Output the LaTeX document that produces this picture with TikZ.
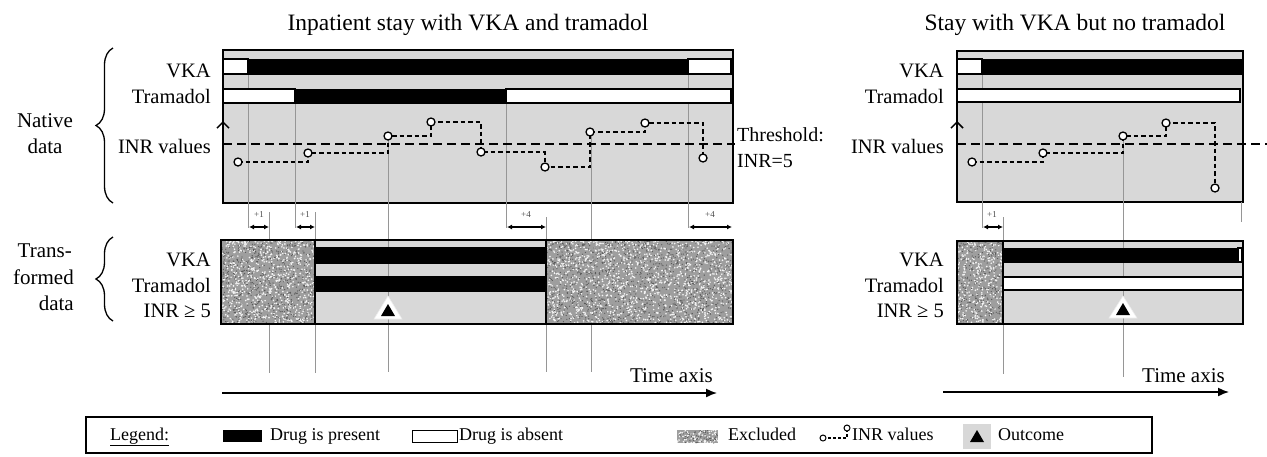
\documentclass[tikz,border=0pt]{standalone}
\usepackage{fontspec}
\setmainfont{Liberation Serif}
\usetikzlibrary{arrows.meta,decorations.pathreplacing}
\definecolor{boxgray}{RGB}{216,216,216}
\definecolor{linegray}{RGB}{150,150,150}
\definecolor{exgray}{RGB}{158,158,158}
\newcommand\mynoise[5]{%
  \begin{scope}
  \clip (#1,#2) rectangle (#3,#4);
  \fill[exgray] (#1,#2) rectangle (#3,#4);
  \foreach \k in {1,...,#5}{
    \fill[white!92!gray] ({#1+rnd*(#3-#1)},{#2+rnd*(#4-#2)}) circle (0.9);
    \fill[black!65] ({#1+rnd*(#3-#1)},{#2+rnd*(#4-#2)}) circle (0.65);
  }
  \end{scope}}
\begin{document}
\begin{tikzpicture}[x=1pt,y=-1pt,
  lab/.style={font=\fontsize{20.5}{24}\selectfont, inner sep=0pt, anchor=base east},
  side/.style={font=\fontsize{21}{24}\selectfont, inner sep=0pt},
  titlelab/.style={font=\fontsize{23.5}{28}\selectfont, inner sep=0pt, anchor=base},
  leglab/.style={font=\fontsize{18}{22}\selectfont, inner sep=0pt, anchor=base west},
  panelbox/.style={draw=black, line width=1.8pt, fill=boxgray},
  presentbar/.style={fill=black, draw=black, line width=0.8pt},
  absentbar/.style={fill=white, draw=black, line width=1.2pt},
  tickline/.style={draw=linegray, line width=1pt},
  thresh/.style={dash pattern=on 9pt off 5pt, line width=1.5pt},
  inrline/.style={dash pattern=on 4.5pt off 3pt, line width=1.5pt},
  inrpt/.style={circle, draw=black, fill=white, line width=1.3pt, minimum size=8pt, inner sep=0pt},
  shiftarrow/.style={{Latex[length=5pt,width=5pt]}-{Latex[length=5pt,width=5pt]}, line width=1.3pt},
  smalllab/.style={font=\fontsize{9}{10}\selectfont, inner sep=0pt, anchor=base, text=black!70},
  uparrow/.style={line width=1.5pt, -{Straight Barb[length=6pt,width=12pt]}},
  timearrow/.style={line width=1.5pt, -{Latex[length=11pt,width=9pt]}},
  sidebrace/.style={decorate, decoration={brace, amplitude=17pt}, line width=1.3pt},
  outw/.style={fill=white, draw=white!85!gray, line width=0.6pt},
]
\useasboundingbox (0,0) rectangle (1267,456);
\pgfmathsetseed{7}

% ---------- titles ----------
\node[titlelab] (t1) at (468,30) {Inpatient stay with VKA and tramadol};
\node[titlelab] (t2) at (1075,30) {Stay with VKA but no tramadol};

% ---------- side labels ----------
\node[side, anchor=base] (nat1) at (45,127) {Native};
\node[side, anchor=base] (nat2) at (45,153) {data};
\node[side, anchor=base east] (tr1) at (72,257) {Trans-};
\node[side, anchor=base east] (tr2) at (74,284) {formed};
\node[side, anchor=base east] (tr3) at (74,310) {data};
\coordinate (b1a) at (113,203); \coordinate (b1b) at (113,48);
\coordinate (b2a) at (113,321); \coordinate (b2b) at (113,237);
\draw[sidebrace] (b1a) -- (b1b);
\draw[sidebrace] (b2a) -- (b2b);

% ================= LEFT PANEL =================
\draw[panelbox] (223,50) rectangle (733,203);
% tick lines
\draw[tickline] (248,74) -- (248,228);
\draw[tickline] (295,103) -- (295,228);
\draw[tickline] (388,136) -- (388,372);
\draw[tickline] (506,103) -- (506,228);
\draw[tickline] (591,132) -- (591,372);
\draw[tickline] (688,74) -- (688,228);
\draw[tickline] (269,212) -- (269,373);
\draw[tickline] (315,212) -- (315,373);
\draw[tickline] (546,217) -- (546,372);
% threshold
\draw[thresh] (223,144) -- (735,144);
% INR values
\coordinate (p1) at (238,162); \coordinate (p2) at (308,153);
\coordinate (p3) at (388,136); \coordinate (p4) at (431,122);
\coordinate (p5) at (481,152); \coordinate (p6) at (545,167);
\coordinate (p7) at (590,132); \coordinate (p8) at (645,123);
\coordinate (p9) at (703,158);
\draw[inrline] (p1) -| (p2) -| (p3) -| (p4) -| (p5) -| (p6) -| (p7) -| (p8) -| (p9);
\foreach \p in {p1,p2,p3,p4,p5,p6,p7,p8,p9} \node[inrpt] at (\p) {};
% bars
\draw[absentbar] (223,59) rectangle (248,74);
\draw[presentbar] (248,59) rectangle (688,74);
\draw[absentbar] (688,59) rectangle (731,74);
\draw[absentbar] (223,89) rectangle (295,103);
\draw[presentbar] (295,89) rectangle (506,103);
\draw[absentbar] (506,89) rectangle (731,103);
\draw[uparrow] (223,140) -- (223,121);
% labels
\node[lab] (l1) at (211,77) {VKA};
\node[lab] (l2) at (211,103) {Tramadol};
\node[lab] (l3) at (211,153) {INR values};
\node[side, anchor=base west, font=\fontsize{20}{24}\selectfont] (th1) at (737,141) {Threshold:};
\node[side, anchor=base west, font=\fontsize{20}{24}\selectfont] (th2) at (737,167) {INR=5};
% shifts
\draw[shiftarrow] (249,227) -- (269,227);
\node[smalllab] at (259,217) {+1};
\draw[shiftarrow] (296,227) -- (315,227);
\node[smalllab] at (305,217) {+1};
\draw[shiftarrow] (507,227) -- (546,227);
\node[smalllab] at (526,217) {+4};
\draw[shiftarrow] (689,227) -- (732,227);
\node[smalllab] at (710,217) {+4};
% transformed
\fill[boxgray] (221,240) rectangle (733,324);
\draw[tickline] (388,240) -- (388,324);
\draw[tickline] (546,240) -- (546,324);
\draw[presentbar] (315,247) rectangle (546,263);
\draw[presentbar] (315,276) rectangle (546,291);
\mynoise{221}{240}{315}{324}{700}
\mynoise{546}{240}{733}{324}{1300}
\draw[line width=1.2pt] (315,240) -- (315,324) (546,240) -- (546,324);
\draw[line width=1.8pt] (221,240) rectangle (733,324);
\fill[outw] (388,296) -- (374,319) -- (402,319) -- cycle;
\fill[black] (388,304) -- (381,316) -- (395,316) -- cycle;
\node[lab] (m1) at (211,266) {VKA};
\node[lab] (m2) at (211,292) {Tramadol};
\node[lab] (m3) at (211,317) {INR ≥ 5};
% time axis
\coordinate (ta1) at (222,393); \coordinate (ta2) at (717,393);
\draw[timearrow] (ta1) -- (ta2);
\node[side, anchor=base east] (tx1) at (713,382) {Time axis};

% ================= RIGHT PANEL =================
\draw[panelbox] (957,51) rectangle (1243,202);
\draw[tickline] (982,74) -- (982,228);
\draw[tickline] (1123,136) -- (1123,377);
\draw[tickline] (1003,217) -- (1003,374);
\draw[tickline] (1241,202) -- (1241,222);
\draw[thresh] (957,144) -- (1267,144);
\coordinate (q1) at (972,162); \coordinate (q2) at (1043,153);
\coordinate (q3) at (1123,136); \coordinate (q4) at (1166,123);
\coordinate (q5) at (1215,188);
\draw[inrline] (q1) -| (q2) -| (q3) -| (q4) -| (q5);
\foreach \p in {q1,q2,q3,q4,q5} \node[inrpt] at (\p) {};
\draw[absentbar] (957,59) rectangle (982,74);
\draw[presentbar] (982,59) rectangle (1243,74);
\draw[absentbar] (957,89) rectangle (1240,102);
\draw[uparrow] (957,140) -- (957,121);
\node[lab] (r1) at (944,77) {VKA};
\node[lab] (r2) at (944,103) {Tramadol};
\node[lab] (r3) at (944,153) {INR values};
\draw[shiftarrow] (983,227) -- (1003,227);
\node[smalllab] at (992,217) {+1};
\fill[boxgray] (957,241) rectangle (1243,324);
\draw[tickline] (1123,241) -- (1123,324);
\draw[presentbar] (1003,248) rectangle (1238,262);
\draw[absentbar] (1238,248) rectangle (1242,262);
\draw[absentbar] (1003,277) rectangle (1243,290);
\mynoise{957}{241}{1003}{324}{320}
\draw[line width=1.2pt] (1003,241) -- (1003,324);
\draw[line width=1.8pt] (957,241) rectangle (1243,324);
\fill[outw] (1123,296) -- (1109,318) -- (1137,318) -- cycle;
\fill[black] (1123,303) -- (1116,315) -- (1130,315) -- cycle;
\node[lab] (s1) at (944,266) {VKA};
\node[lab] (s2) at (944,292) {Tramadol};
\node[lab] (s3) at (944,317) {INR ≥ 5};
\coordinate (tb1) at (943,392); \coordinate (tb2) at (1229,392);
\draw[timearrow] (tb1) -- (tb2);
\node[side, anchor=base east] (tx2) at (1225,382) {Time axis};

% ================= LEGEND =================
\draw[line width=1.2pt] (86,417) rectangle (1152,453);
\node[leglab, font=\fontsize{18}{22}\selectfont] (lg) at (110,440) {\underline{Legend:}};
\fill[black] (223,430) rectangle (262,442);
\node[leglab] (lg1) at (270,440) {Drug is present};
\draw[black, line width=1pt, fill=white] (412,430) rectangle (457,442);
\node[leglab] (lg2) at (459,440) {Drug is absent};
\mynoise{677}{430}{718}{443}{70}
\node[leglab] (lg3) at (728,440) {Excluded};
\coordinate (g1) at (823,438); \coordinate (g2) at (847,428);
\draw[line width=1.1pt, dash pattern=on 3pt off 2pt] (g1) -| (g2);
\node[inrpt, minimum size=6pt, line width=1pt] at (g1) {};
\node[inrpt, minimum size=6pt, line width=1pt] at (g2) {};
\node[leglab] (lg4) at (852,440) {INR values};
\fill[boxgray] (963,424) rectangle (991,449);
\fill[black] (977,430) -- (970,442) -- (984,442) -- cycle;
\node[leglab] (lg5) at (998,440) {Outcome};
\end{tikzpicture}
\end{document}
